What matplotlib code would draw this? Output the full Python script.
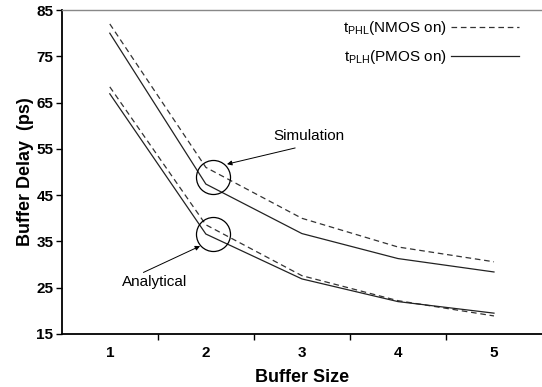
import matplotlib
matplotlib.use("Agg")
import matplotlib.pyplot as plt
from matplotlib.lines import Line2D

plt.rcParams['font.family'] = ['Liberation Sans', 'DejaVu Sans']

# buffer sizes
sizes = [1, 2, 3, 4, 5]
# simulation curves (ps)
sim_phl = [82.0, 51.0, 40.0, 33.8, 30.6]
sim_plh = [80.0, 47.4, 36.7, 31.3, 28.4]
# analytical curves (ps)
ana_phl = [68.4, 38.6, 27.6, 22.2, 18.9]
ana_plh = [66.9, 36.6, 26.9, 22.0, 19.5]

yticks = [15, 25, 35, 45, 55, 65, 75, 85]

fig = plt.figure(figsize=(5.42, 3.87), dpi=100)
ax = fig.add_axes([0.114, 0.137, 0.886, 0.837])

dash = (0, (4.5, 3))
ax.plot(sizes, sim_phl, color='#333333', lw=0.9, linestyle=dash)
ax.plot(sizes, sim_plh, color='#222222', lw=0.9)
ax.plot(sizes, ana_phl, color='#333333', lw=0.9, linestyle=dash)
ax.plot(sizes, ana_plh, color='#222222', lw=0.9)

# circles marking the simulation / analytical curves
ax.plot([2.07], [48.9], 'o', mfc='none', mec='black', ms=24.5, mew=0.9)
ax.plot([2.07], [36.6], 'o', mfc='none', mec='black', ms=24.5, mew=0.9)

arrow = dict(arrowstyle='-|>', color='black', lw=0.7, mutation_scale=7,
             shrinkA=0, shrinkB=0)
ax.text(3.07, 57.8, 'Simulation', fontsize=11, ha='center', va='center')
ax.annotate('', xy=(2.22, 51.7), xytext=(2.93, 55.2), arrowprops=arrow)
ax.text(1.47, 26.3, 'Analytical', fontsize=11, ha='center', va='center')
ax.annotate('', xy=(1.94, 34.0), xytext=(1.35, 28.3), arrowprops=arrow)

handles = [Line2D([], [], color='#333333', lw=0.9, linestyle=dash),
           Line2D([], [], color='#222222', lw=0.9)]
labels = [r'$\mathregular{t_{PHL}}$(NMOS on)', r'$\mathregular{t_{PLH}}$(PMOS on)']
ax.legend(handles, labels, markerfirst=False, frameon=False, loc='upper right',
          bbox_to_anchor=(0.98, 1.015), handlelength=4.4, handletextpad=0.3,
          fontsize=11, labelspacing=0.75)

ax.set_xlim(0.5, 5.5)
ax.set_ylim(15, 85)
ax.set_xticks([1.5, 2.5, 3.5, 4.5], minor=False)
ax.set_xticklabels([])
ax.set_xticks(sizes, minor=True)
ax.set_xticklabels([str(s) for s in sizes], minor=True, fontsize=11, fontweight='bold')
ax.tick_params(axis='x', which='minor', length=0, pad=9)
ax.tick_params(axis='x', which='major', length=4, width=1)
ax.set_yticks(yticks)
ax.set_yticklabels([str(v) for v in yticks], fontsize=11, fontweight='bold')
ax.tick_params(axis='y', length=4, width=1, pad=2)

ax.spines['right'].set_visible(False)
ax.spines['top'].set_color('#888888')
ax.spines['top'].set_linewidth(1.0)
ax.spines['left'].set_linewidth(1.3)
ax.spines['bottom'].set_linewidth(1.3)

ax.set_xlabel('Buffer Size', fontsize=13, fontweight='bold', labelpad=6)
ax.set_ylabel('Buffer Delay  (ps)', fontsize=13, fontweight='bold', labelpad=2)

fig.savefig('out.png', dpi=100)
